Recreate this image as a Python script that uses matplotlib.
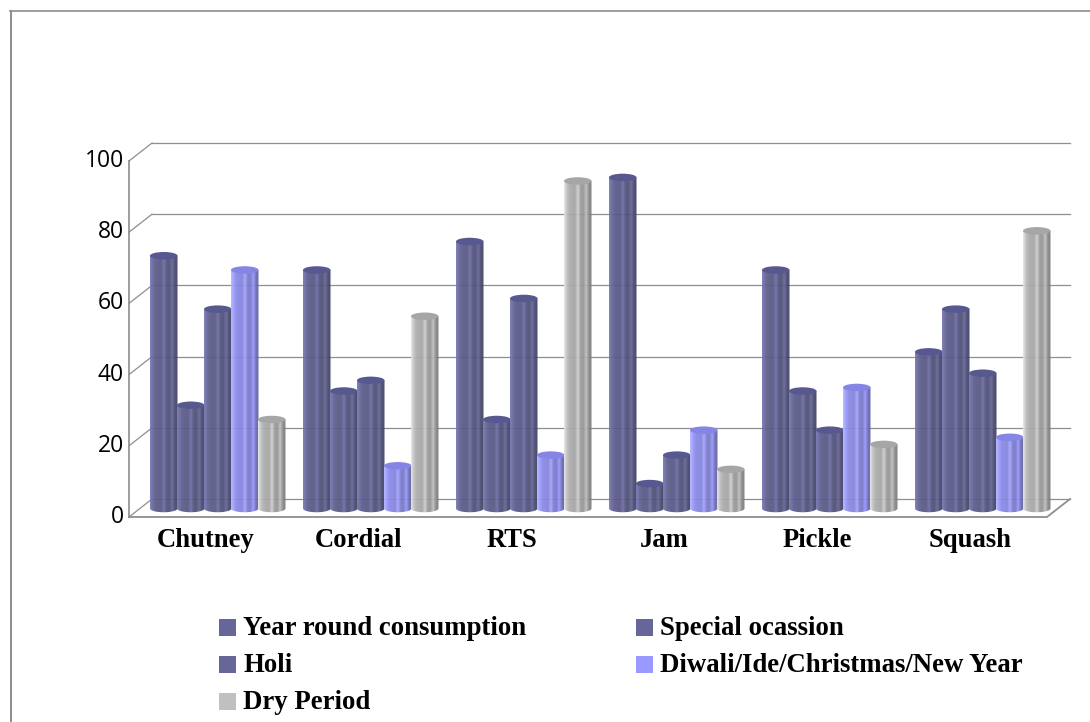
import numpy as np
import matplotlib
matplotlib.use("Agg")
import matplotlib.pyplot as plt
from matplotlib.colors import LinearSegmentedColormap
from matplotlib.patches import Ellipse, PathPatch, Rectangle
from matplotlib.path import Path

categories = ["Chutney", "Cordial", "RTS", "Jam", "Pickle", "Squash"]
series_names = ["Year round consumption", "Special ocassion", "Holi",
                "Diwali/Ide/Christmas/New Year", "Dry Period"]
year_round = [71, 67, 75, 93, 67, 44]
special = [29, 33, 25, 7, 33, 56]
holi = [56, 36, 59, 15, 22, 38]
diwali = [67, 12, 15, 22, 34, 20]
dry_period = [25, 54, 92, 11, 18, 78]
y_ticks = [0, 20, 40, 60, 80, 100]

all_series = [year_round, special, holi, diwali, dry_period]
legend_colors = ["#666699", "#666699", "#666699", "#9999ff", "#c0c0c0"]
top_colors = ["#585890", "#585890", "#585890", "#8585e6", "#a6a6a6"]

W, H = 1090, 722
fig = plt.figure(figsize=(W / 100, H / 100), dpi=100)

# pixel layout of the value axis, bars stand on y=508.5
x0_px, x1_px = 141.0, 1059.0
y0_px, y100_px = 508.5, 152.5
ax = fig.add_axes([x0_px / W, 1 - y0_px / H, (x1_px - x0_px) / W, (y0_px - y100_px) / H])
ax.set_axis_off()

px_x = (x1_px - x0_px) / 6.0     # pixels per category
px_y = (y0_px - y100_px) / 100.0  # pixels per value unit
bar_w = 27.5 / px_x
ell_h = 7.5 / px_y

# depth of the walls relative to the bars, in data units
back_dy = 9.5 / px_y
front_dy = -8.5 / px_y
left_front = (129 - x0_px) / px_x - 0.5
left_back = (152 - x0_px) / px_x - 0.5
right_front = (1047 - x0_px) / px_x - 0.5
right_back = (1070 - x0_px) / px_x - 0.5
wall = "#8e8e8e"


def shade_map(c):
    # cylinder stripes: light left edge, dark right side, thin highlights
    c = np.array(matplotlib.colors.to_rgb(c))
    f = [1.2, 1.0, 0.9, 0.88, 0.86, 1.08, 0.8, 0.78, 1.0, 0.7, 0.64]
    return LinearSegmentedColormap.from_list(
        "s", [tuple(np.clip(c * v, 0, 1)) for v in f], N=64)


# walls + gridlines
for v in y_ticks:
    ax.plot([left_back, right_back], [v + back_dy] * 2, color=wall, lw=0.9, clip_on=False, zorder=1)
    ax.plot([left_front, left_back], [v + front_dy, v + back_dy], color=wall, lw=0.9, clip_on=False, zorder=1)
ax.plot([left_front, left_front], [front_dy, 100 + front_dy], color=wall, lw=1.2, clip_on=False, zorder=1)
ax.plot([left_front, right_front, right_back], [front_dy, front_dy, back_dy], color=wall, lw=1.3, clip_on=False, zorder=1)

grad = np.linspace(0, 1, 64).reshape(1, -1)
t = np.linspace(0, np.pi, 40)
for i in range(len(categories)):
    for j, vals in enumerate(all_series):
        v = vals[i]
        xl = i - 0.5 + (150 - x0_px) / px_x + j * 27.0 / px_x
        xr = xl + bar_w
        xc = (xl + xr) / 2
        z = 2 + j * 0.1 + i
        # body outline: bottom half ellipse, then straight up to the top
        xs = np.concatenate([xc - bar_w / 2 * np.cos(t), [xr, xl]])
        ys = np.concatenate([-ell_h / 2 * np.sin(t), [v, v]])
        patch = PathPatch(Path(np.column_stack([xs, ys]), closed=False), transform=ax.transData, fc="none", ec="none")
        ax.add_patch(patch)
        im = ax.imshow(grad, extent=[xl, xr, -ell_h, v], aspect="auto", cmap=shade_map(legend_colors[j]),
                       zorder=z, interpolation="bilinear", alpha=0.94)
        im.set_clip_box(fig.bbox)
        im.set_clip_path(patch)
        ax.add_patch(Ellipse((xc, v), bar_w, ell_h, fc=top_colors[j], ec="none", zorder=z + 0.01))

ax.set_xlim(-0.5, 5.5)
ax.set_ylim(0, 100)

# y labels
for v in y_ticks:
    ax.text((124 - x0_px) / px_x - 0.5, v + front_dy, str(v), ha="right", va="center",
            fontsize=16.5, family="Open Sans", color="black", clip_on=False)
# category labels
for i, name in enumerate(categories):
    ax.text(i - 0.5 + (205.5 - x0_px) / px_x, (y0_px - 547) / px_y, name,
            ha="center", va="baseline", fontsize=19.2, family="Liberation Serif", fontweight="bold")

# outer frame runs off the right and bottom
fig.add_artist(plt.Line2D([10.5 / W, 10.5 / W], [0, 1 - 11 / H], color="#8c8c8c", lw=1.4))
fig.add_artist(plt.Line2D([10 / W, 1], [1 - 11 / H, 1 - 11 / H], color="#8c8c8c", lw=1.2))

# legend, laid out by hand to keep its two uneven columns
leg_x = [219, 636, 219, 636, 219]
leg_y = [627, 627, 664, 664, 701]
for name, c, lx, ly in zip(series_names, legend_colors, leg_x, leg_y):
    fig.add_artist(Rectangle((lx / W, 1 - (ly + 9) / H), 17 / W, 17 / H, transform=fig.transFigure,
                             fc=c, ec="none"))
    fig.text((lx + 24) / W, 1 - (ly + 8) / H, name, ha="left", va="baseline", fontsize=19.3,
             family="Liberation Serif", fontweight="bold")

fig.savefig("out.png", dpi=100, facecolor="white")
